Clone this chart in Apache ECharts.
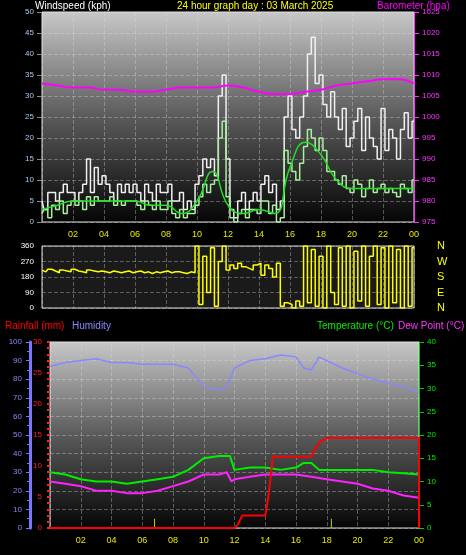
<!DOCTYPE html><html><head><meta charset="utf-8">
<script src="https://cdn.jsdelivr.net/npm/echarts@6/dist/echarts.min.js"></script>
<style>html,body{margin:0;background:#000}#c{width:466px;height:555px}</style></head><body><div id="c"></div>
<script>
const hourTicks=['00','02','04','06','08','10','12','14','16','18','20','22','00'];
const gust=[5,3,7,7,5,7,9,7,7,5,7,9,15,7,13,9,11,9,7,5,9,7,9,7,9,7,5,9,7,5,9,7,7,9,5,5,7,3,5,3,9,11,15,13,15,11,30,35,15,3,1,5,7,3,5,7,5,9,11,7,9,3,5,25,30,22,20,25,30,40,44,33,35,28,25,31,25,22,27,18,20,24,27,17,25,20,18,15,27,17,22,20,15,22,26,20,24];
const speed=[2,3,1,4,3,5,2,4,5,4,5,3,6,4,6,5,5,5,6,4,5,4,5,5,5,4,3,5,4,3,5,3,3,5,2,1,3,1,2,2,4,6,9,7,9,10,20,24,6,1,0,2,3,1,3,3,2,5,5,2,4,0,1,17,14,12,10,14,18,22,20,17,20,17,12,12,10,9,11,8,7,10,9,6,8,10,7,8,9,7,8,7,6,9,8,7,10];
const avgWind=[3,4,5,5,5,5,5,4,4,2,5,12,4,2,3,2,13,19,16,10,8,8,8,8,8];
const baro=[1008,1007.5,1007,1007,1006.5,1006.5,1006,1006,1006.5,1007,1007,1007,1007.5,1007,1006,1005.5,1005.5,1006,1006.5,1007.5,1008,1008.5,1009,1009,1008];
const dir=[220,210,225,215,205,220,215,210,225,215,210,205,220,215,210,215,210,205,215,210,205,210,215,205,210,215,205,210,200,210,205,210,215,205,210,210,205,200,210,205,
  360,20,300,90,350,10,270,360,220,250,230,260,240,230,220,250,260,190,250,230,180,260,10,30,20,0,40,10,
  360,30,340,10,300,0,360,90,20,350,10,360,0,330,40,360,10,300,360,20,350,0,360,30,340,0,360,10,350];
const hum=[[0,87],[1,89],[2,90],[3,91],[4,89],[5,89],[6,88],[7,88],[8,88],[9,86],[10,76],[11,74],[11.5,76],[12,86],[13,90],[14,91],[15,93],[16,92],[16.5,86],[17,85],[17.5,92],[18,90],[19,86],[20,83],[21,80],[22,78],[23,76],[24,73]];
const temp=[[0,12],[1,11.5],[2,10.5],[3,10],[4,10],[5,9.5],[6,10],[7,10.5],[8,11],[9,12.5],[10,15],[11,15.5],[11.7,15.5],[12,12.5],[13,13],[14,13],[15,12.5],[16,13],[16.5,14],[17,14],[17.5,12.5],[18,12.5],[19,12.5],[20,12.5],[21,12.5],[22,12],[23,11.8],[24,11.5]];
const dew=[[0,10],[1,9.5],[2,9],[3,8],[4,8],[5,7.5],[6,7.5],[7,8],[8,9],[9,10],[10,11.5],[11,11.5],[11.5,12],[11.8,10],[12,10.5],[13,11],[14,11.5],[15,11.5],[16,11.5],[17,11],[18,10.5],[19,10],[20,9.5],[21,8.5],[22,8],[23,7],[24,6.5]];
const rain=[[0,0],[12,0],[12.2,0.5],[12.5,2],[14,2],[14.2,5],[14.5,11.5],[17,11.5],[17.3,13],[17.6,14],[18,14.5],[24,14.5],[24,0]];
const rainRate=[[6.8,1.5],[18.3,1.5]];
const dirNames={0:'N',90:'E',180:'S',270:'W',360:'N'};

const q=(arr,step)=>arr.map((v,i)=>[i*step,v]);
const bg={type:'linear',x:0,y:0,x2:0,y2:1,colorStops:[{offset:0,color:'#c8c8c8'},{offset:0.5,color:'#5a5a5a'},{offset:1,color:'#050505'}]};
const split={show:true,lineStyle:{color:'rgba(220,220,220,0.35)',type:'dashed'}};
const xa=(gi)=>({type:'value',gridIndex:gi,min:0,max:24,interval:2,axisLine:{show:false},axisTick:{show:false},
  splitLine:split,axisLabel:{color:'#e8e800',fontSize:9,formatter:v=>v===0?'':hourTicks[v/2]}});
const grids=[{left:42,right:52,top:12,bottom:333,backgroundColor:bg,show:true,borderColor:'#ddd'},
  {left:42,right:52,top:246,bottom:247,backgroundColor:'#1a1a1a',show:true,borderColor:'#ddd'},
  {left:50,right:47,top:342,bottom:27,backgroundColor:bg,show:true,borderColor:'#ddd'}];
const ts=(c)=>({color:c,fontSize:10,fontWeight:'normal'});
const chart=echarts.init(document.getElementById('c'));
chart.setOption({backgroundColor:'#000',animation:false,grid:grids,
 title:[{text:'Windspeed (kph)',left:30,top:-4,textStyle:ts('#fff')},
  {text:'24 hour graph day : 03 March 2025',left:172,top:-4,textStyle:ts('#ffff00')},
  {text:'Barometer (hpa)',left:372,top:-4,textStyle:ts('#ff00ff')},
  {text:'Rainfall (mm)',left:0,top:316,textStyle:ts('#ff0000')},
  {text:'Humidity',left:67,top:316,textStyle:ts('#8888ff')},
  {text:'Temperature (°C)',left:312,top:316,textStyle:ts('#00ee00')},
  {text:'Dew Point (°C)',left:393,top:316,textStyle:ts('#ff33ff')}],
 xAxis:[xa(0),Object.assign(xa(1),{axisLabel:{show:false}}),xa(2)],
 yAxis:[
  {type:'value',gridIndex:0,min:0,max:50,interval:5,axisLabel:{color:'#a8c8f0',fontSize:8},axisTick:{show:true,lineStyle:{color:'#888'}},axisLine:{show:false},splitLine:split},
  {type:'value',gridIndex:0,min:975,max:1025,interval:5,position:'right',axisLabel:{color:'#ff33ff',fontSize:8,formatter:v=>String(v)},axisLine:{show:true,onZero:false,lineStyle:{color:'#ff33ff'}},axisTick:{show:true,lineStyle:{color:'#ff33ff'}},splitLine:{show:false}},
  {type:'value',gridIndex:1,min:0,max:360,interval:90,axisLabel:{color:'#fff',fontSize:8},axisLine:{show:false},axisTick:{show:false},splitLine:split},
  {type:'value',gridIndex:1,min:0,max:360,interval:90,position:'right',offset:15,axisLabel:{color:'#ffff00',fontSize:11,formatter:v=>dirNames[v]},axisLine:{show:false},axisTick:{show:false},splitLine:{show:false}},
  {type:'value',gridIndex:2,min:0,max:100,interval:10,position:'left',offset:20,axisLabel:{color:'#8888ff',fontSize:8,margin:8},axisLine:{show:true,onZero:false,lineStyle:{color:'#7777ff',width:3}},axisTick:{show:true,length:4,lineStyle:{color:'#7777ff'}},minorTick:{show:true,splitNumber:2,length:3,lineStyle:{color:'#7777ff'}},splitLine:split},
  {type:'value',gridIndex:2,min:0,max:30,interval:5,position:'left',offset:0,axisLabel:{color:'#ff2020',fontSize:8,margin:8},axisLine:{show:false},axisTick:{show:true,length:3,lineStyle:{color:'#ff2020',width:2}},minorTick:{show:true,splitNumber:5,length:3,lineStyle:{color:'#ff2020',width:2}},splitLine:{show:false}},
  {type:'value',gridIndex:2,min:0,max:40,interval:5,position:'right',axisLabel:{color:'#00ee00',fontSize:8},axisLine:{show:true,onZero:false,lineStyle:{color:'#00cc00'}},axisTick:{show:true,lineStyle:{color:'#00cc00'}},splitLine:{show:false}}],
 series:[
  {type:'line',xAxisIndex:0,yAxisIndex:0,data:q(gust,0.25),step:'middle',symbol:'none',lineStyle:{color:'#f0f0f0',width:1.5}},
  {type:'line',xAxisIndex:0,yAxisIndex:0,data:q(speed,0.25),step:'middle',symbol:'none',lineStyle:{color:'#a8f0a0',width:1.5}},
  {type:'line',xAxisIndex:0,yAxisIndex:0,data:q(avgWind,1),smooth:true,symbol:'none',lineStyle:{color:'#22dd22',width:1.5}},
  {type:'line',xAxisIndex:0,yAxisIndex:1,data:q(baro,1),smooth:true,symbol:'none',lineStyle:{color:'#ff00ff',width:2}},
  {type:'line',xAxisIndex:1,yAxisIndex:2,data:q(dir,0.25),step:'middle',symbol:'none',lineStyle:{color:'#ffff00',width:1.5}},
  {type:'line',xAxisIndex:2,yAxisIndex:4,data:hum,symbol:'none',lineStyle:{color:'#8888ff',width:1.5}},
  {type:'line',xAxisIndex:2,yAxisIndex:6,data:temp,symbol:'none',lineStyle:{color:'#00ee00',width:2}},
  {type:'line',xAxisIndex:2,yAxisIndex:6,data:dew,symbol:'none',lineStyle:{color:'#ff22ff',width:2}},
  {type:'line',xAxisIndex:2,yAxisIndex:5,data:rain,symbol:'none',lineStyle:{color:'#ff0000',width:2}},
  {type:'bar',xAxisIndex:2,yAxisIndex:5,data:rainRate,barWidth:1,itemStyle:{color:'#cccc00'}}]});
</script></body></html>
